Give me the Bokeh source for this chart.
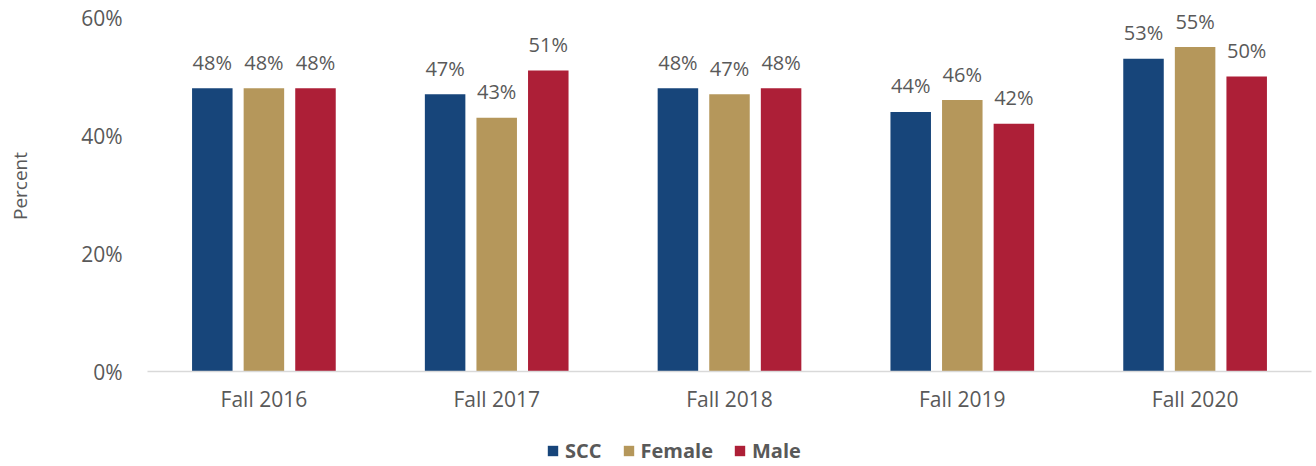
from bokeh.plotting import figure
from bokeh.layouts import column
from bokeh.models import (ColumnDataSource, FactorRange, Range1d, FixedTicker,
                          PrintfTickFormatter, Legend, LegendItem)
from bokeh.transform import dodge
from bokeh.core.properties import value
from bokeh.embed import file_html
from bokeh.resources import INLINE

categories = ["Fall 2016", "Fall 2017", "Fall 2018", "Fall 2019", "Fall 2020"]
series_names = ["SCC", "Female", "Male"]
scc = [48, 47, 48, 44, 53]
female = [48, 43, 47, 46, 55]
male = [48, 51, 48, 42, 50]
y_ticks = [0, 20, 40, 60]

colors = ["#17457A", "#B5975B", "#AD1F37"]
FONT = "Open Sans"
TXT = "#595959"

data = dict(cat=categories, SCC=scc, Female=female, Male=male)
for name in series_names:
    data[name + "_lbl"] = [f"{v}%" for v in data[name]]
source = ColumnDataSource(data)

# frame spans the full top so labels above 60% are not clipped
main = figure(width=1312, height=428, output_backend="svg", toolbar_location=None,
              x_range=FactorRange(*categories, range_padding=0),
              y_range=Range1d(0, 60 * 371 / 354))
main.min_border_left = 147
main.min_border_right = 1
main.min_border_top = 0
main.min_border_bottom = 57
main.outline_line_color = None
main.xgrid.visible = False
main.ygrid.visible = False

offsets = [-0.2216, 0.0, 0.2216]
for name, off, col in zip(series_names, offsets, colors):
    main.vbar(x=dodge("cat", off, range=main.x_range), top=name, width=0.174,
              source=source, fill_color=col, line_color=None)
    main.text(x=dodge("cat", off, range=main.x_range), y=name, text=name + "_lbl",
              source=source, text_align="center", text_baseline="alphabetic",
              y_offset=-26, text_font=value(FONT), text_font_size="20px",
              text_color=TXT)

main.yaxis.ticker = FixedTicker(ticks=y_ticks)
main.yaxis.formatter = PrintfTickFormatter(format="%d%%")
main.yaxis.axis_line_color = None
main.yaxis.major_tick_line_color = None
main.yaxis.minor_tick_line_color = None
main.yaxis.major_label_standoff = 19
main.yaxis.major_label_text_font = FONT
main.yaxis.major_label_text_font_size = "21px"
main.yaxis.major_label_text_color = TXT
main.yaxis.axis_label = "Percent"
main.yaxis.axis_label_text_font = FONT
main.yaxis.axis_label_text_font_style = "normal"
main.yaxis.axis_label_text_font_size = "19px"
main.yaxis.axis_label_text_color = TXT
main.yaxis.axis_label_standoff = 45

main.xaxis.axis_line_color = "#D9D9D9"
main.xaxis.axis_line_width = 1.3
main.xaxis.major_tick_line_color = None
main.xaxis.minor_tick_line_color = None
main.xaxis.major_label_standoff = 7
main.xaxis.major_label_text_font = FONT
main.xaxis.major_label_text_font_size = "21px"
main.xaxis.major_label_text_color = TXT

# legend strip below the chart
leg = figure(width=1312, height=36, output_backend="svg", toolbar_location=None,
             x_axis_type=None, y_axis_type=None,
             x_range=Range1d(0, 1), y_range=Range1d(0, 1))
leg.min_border_left = 0
leg.min_border_right = 0
leg.min_border_top = 0
leg.min_border_bottom = 0
leg.outline_line_color = None
leg.xgrid.visible = False
leg.ygrid.visible = False
dummy = ColumnDataSource(dict(x=[0.5], top=[0]))
leg_renderers = [leg.vbar(x="x", top="top", bottom=0, width=0.1, source=dummy,
                          fill_color=c, line_color=None) for c in colors]
legend = Legend(items=[LegendItem(label=n, renderers=[r]) for n, r in zip(series_names, leg_renderers)],
                orientation="horizontal", location=(399, 0),
                glyph_width=13, glyph_height=13, label_standoff=6, spacing=20,
                padding=0, margin=0, border_line_color=None,
                background_fill_alpha=0,
                label_text_font=FONT, label_text_font_style="bold",
                label_text_font_size="20px", label_text_color=TXT)
leg.add_layout(legend)

p = column(main, leg, spacing=0)

open("out.html", "w").write(file_html(p, INLINE))
